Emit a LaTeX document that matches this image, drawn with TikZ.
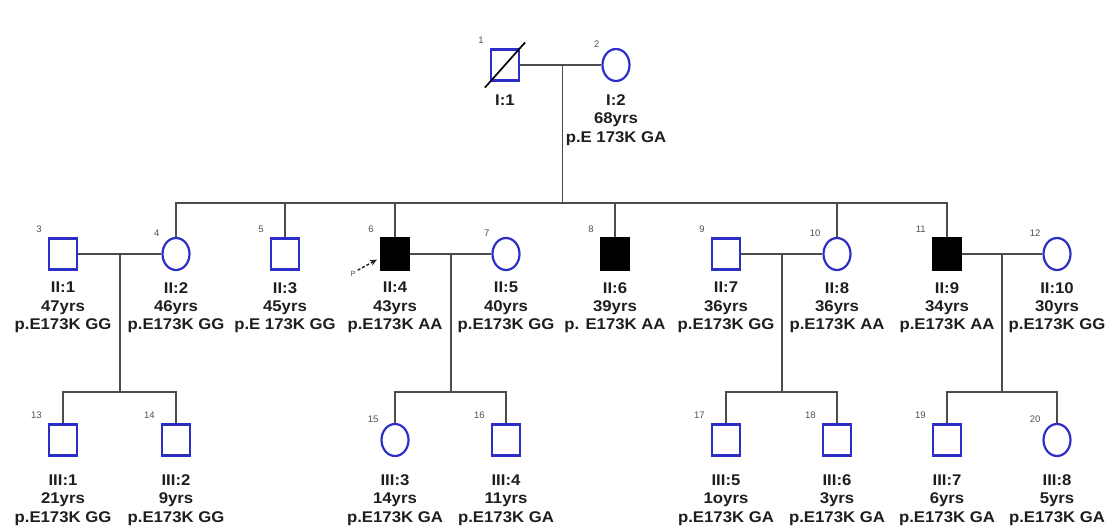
\documentclass[tikz,border=0pt]{standalone}
\usepackage{fontspec}
\setmainfont{Liberation Sans}
\newfontfamily\labfont[FakeStretch=1.08]{Liberation Sans}
\usetikzlibrary{shapes.geometric,arrows.meta,calc}
\definecolor{pblue}{RGB}{45,45,200}
\definecolor{linegray}{RGB}{75,75,75}
\definecolor{txt}{RGB}{30,30,30}
\definecolor{numgray}{RGB}{80,80,80}
\begin{document}
\begin{tikzpicture}[x=1pt,y=-1pt,
  line/.style={draw=linegray, line width=1.7pt},
  male/.style={rectangle, draw=pblue, line width=2.2pt, minimum width=28pt, minimum height=31pt, inner sep=0pt},
  female/.style={ellipse, draw=pblue, line width=2.2pt, minimum width=27pt, minimum height=32pt, inner sep=0pt},
  affm/.style={male, fill=black, draw=black},
  lab/.style={font=\labfont\bfseries\fontsize{15.5}{18.4}\selectfont, text=txt, align=center, anchor=north, inner sep=0pt},
  num/.style={font=\fontsize{9.5}{9.5}\selectfont, text=numgray, inner sep=0pt, anchor=south east}
]
\useasboundingbox (0,0) rectangle (1107,527);
\coordinate (s2) at (0,203);
\coordinate (s3) at (0,392);
% Generation I
\node[male] (n1) at (505,65) {};
\node[female] (n2) at (616,65) {};
\draw[line width=1.7pt, draw=black] ([shift={(-5,6)}]n1.south west) -- ([shift={(5,-6)}]n1.north east);
\draw[line] (n1.east) -- (n2.west);
\coordinate (m12) at ($(n1.east)!0.52!(n2.west)$);
% Generation II
\node[male]   (n3)  at (63,254) {};
\node[female] (n4)  at (176,254) {};
\node[male]   (n5)  at (285,254) {};
\node[affm]   (n6)  at (395,254) {};
\node[female] (n7)  at (506,254) {};
\node[affm]   (n8)  at (615,254) {};
\node[male]   (n9)  at (726,254) {};
\node[female] (n10) at (837,254) {};
\node[affm]   (n11) at (947,254) {};
\node[female] (n12) at (1057,254) {};
\draw[line] (m12) -- (m12 |- s2);
\draw[line] (n4.north) -- (n4.north |- s2) -| (n11.north);
\foreach \n in {n5,n6,n8,n10} \draw[line] (\n.north) -- (\n.north |- s2);
\draw[line] (n3.east) -- (n4.west);
\draw[line] (n6.east) -- (n7.west);
\draw[line] (n9.east) -- (n10.west);
\draw[line] (n11.east) -- (n12.west);
\coordinate (c34) at ($(n3.east)!0.5!(n4.west)$);
\coordinate (c67) at ($(n6.east)!0.5!(n7.west)$);
\coordinate (c910) at ($(n9.east)!0.5!(n10.west)$);
\coordinate (c1112) at ($(n11.east)!0.5!(n12.west)$);
% Generation III
\node[male]   (n13) at (63,440) {};
\node[male]   (n14) at (176,440) {};
\node[female] (n15) at (395,440) {};
\node[male]   (n16) at (506,440) {};
\node[male]   (n17) at (726,440) {};
\node[male]   (n18) at (837,440) {};
\node[male]   (n19) at (947,440) {};
\node[female] (n20) at (1057,440) {};
\foreach \c/\a/\b in {c34/n13/n14, c67/n15/n16, c910/n17/n18, c1112/n19/n20}{
  \draw[line] (\c) -- (\c |- s3);
  \draw[line] (\a.north) -- (\a.north |- s3) -| (\b.north);
}
% numbers
\foreach \n/\t in {n1/1,n2/2,n3/3,n4/4,n5/5,n6/6,n7/7,n8/8,n9/9,n10/10,n11/11,n12/12,n13/13,n14/14,n15/15,n16/16,n17/17,n18/18,n19/19,n20/20}
  \node[num] (k\n) at ([shift={(-6,-5)}]\n.north west) {\t};
% labels
\node[lab] (t1) at (505,94.5) {I:1};
\node[lab] (t2) at (616,94.5) {I:2\\68yrs\\p.E 173K GA};
\node[lab] (t3) at (63,282) {II:1\\47yrs\\p.E173K GG};
\node[lab] (t4) at (176,282) {II:2\\46yrs\\p.E173K GG};
\node[lab] (t5) at (285,282) {II:3\\45yrs\\p.E 173K GG};
\node[lab] (t6) at (395,282) {II:4\\43yrs\\p.E173K AA};
\node[lab] (t7) at (506,282) {II:5\\40yrs\\p.E173K GG};
\node[lab] (t8) at (615,282) {II:6\\39yrs\\p. E173K AA};
\node[lab] (t9) at (726,282) {II:7\\36yrs\\p.E173K GG};
\node[lab] (t10) at (837,282) {II:8\\36yrs\\p.E173K AA};
\node[lab] (t11) at (947,282) {II:9\\34yrs\\p.E173K AA};
\node[lab] (t12) at (1057,282) {II:10\\30yrs\\p.E173K GG};
\node[lab] (t13) at (63,474.5) {III:1\\21yrs\\p.E173K GG};
\node[lab] (t14) at (176,474.5) {III:2\\9yrs\\p.E173K GG};
\node[lab] (t15) at (395,474.5) {III:3\\14yrs\\p.E173K GA};
\node[lab] (t16) at (506,474.5) {III:4\\11yrs\\p.E173K GA};
\node[lab] (t17) at (726,474.5) {III:5\\1oyrs\\p.E173K GA};
\node[lab] (t18) at (837,474.5) {III:6\\3yrs\\p.E173K GA};
\node[lab] (t19) at (947,474.5) {III:7\\6yrs\\p.E173K GA};
\node[lab] (t20) at (1057,474.5) {III:8\\5yrs\\p.E173K GA};
% proband
\node[font=\fontsize{7.5}{7.5}\selectfont, text=numgray, inner sep=0pt] (pl) at (353,274) {P};
\draw[draw=txt, line width=1.4pt, densely dashed, -{Stealth[length=7pt,width=6pt]}] ([shift={(2,-1)}]pl.north east) -- ([shift={(-3,-11)}]n6.south west);
\end{tikzpicture}
\end{document}
